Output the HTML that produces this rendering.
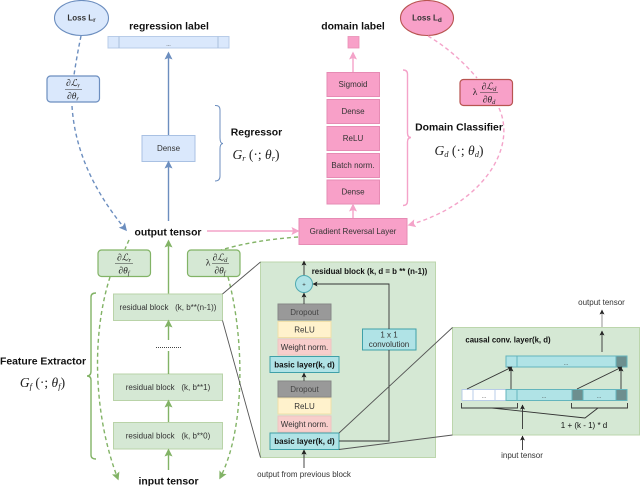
<!DOCTYPE html>
<html><head><meta charset="utf-8">
<style>
html,body{margin:0;padding:0;background:#fff;width:640px;height:486px;overflow:hidden}
svg{display:block}
text{font-family:"Liberation Sans",sans-serif;fill:#333;text-anchor:middle}
.b{font-weight:bold;fill:#111;font-size:10.4px}
.m{font-family:"Liberation Serif",serif;font-style:italic;fill:#222;font-size:9.5px}
.g{font-family:"Liberation Serif",serif;font-style:italic;fill:#222;font-size:13.5px}
.bl{fill:none;stroke:#6c8ebf;stroke-width:1.4}
.pk{fill:none;stroke:#f4a3c9;stroke-width:1.4}
.gn{fill:none;stroke:#82b366;stroke-width:1.4}
.k{fill:none;stroke:#333;stroke-width:.9}
</style></head><body>
<svg width="640" height="486" viewBox="0 0 640 486" xmlns="http://www.w3.org/2000/svg">
<defs>
<marker id="ab" markerWidth="9" markerHeight="9" refX="6.500" refY="4.500" orient="auto" markerUnits="userSpaceOnUse"><path d="M0 0.500L8 4.500L0 8.500L1.500 4.500Z" fill="#6c8ebf"/></marker>
<marker id="ap" markerWidth="9" markerHeight="9" refX="6.500" refY="4.500" orient="auto" markerUnits="userSpaceOnUse"><path d="M0 0.500L8 4.500L0 8.500L1.500 4.500Z" fill="#f4a3c9"/></marker>
<marker id="ag" markerWidth="9" markerHeight="9" refX="6.500" refY="4.500" orient="auto" markerUnits="userSpaceOnUse"><path d="M0 0.500L8 4.500L0 8.500L1.500 4.500Z" fill="#82b366"/></marker>
<marker id="ak" markerWidth="6" markerHeight="6" refX="4.500" refY="3" orient="auto" markerUnits="userSpaceOnUse"><path d="M0 0.500L5 3L0 5.500L1 3Z" fill="#222"/></marker>
</defs>

<!-- Regressor -->
<ellipse cx="81.500" cy="18" rx="27" ry="17.500" fill="#dae8fc" stroke="#6c8ebf" stroke-width="1.100"/>
<text x="81.500" y="20.500" style="font-size:8px;font-weight:bold">Loss L<tspan dy="1.500" style="font-size:6.500px">r</tspan></text>
<text class="b" x="169" y="29.500">regression label</text>
<rect x="108" y="36.500" width="121" height="11.500" fill="#dae8fc" stroke="#b8cce8" stroke-width="1"/>
<path d="M119 36.500V48M218 36.500V48" stroke="#a9bfdc" stroke-width="1"/>
<text x="168.500" y="46" style="font-size:5.500px">...</text>
<rect x="47" y="76" width="52.500" height="26" rx="3.500" fill="#dae8fc" stroke="#6c8ebf" stroke-width="1.200"/>
<text class="m" x="73" y="86">∂ℒ<tspan dy="1.500" style="font-size:6.500px">r</tspan></text>
<path d="M65 89.500H82" stroke="#333" stroke-width=".6"/>
<text class="m" x="73" y="99">∂θ<tspan dy="1.500" style="font-size:6.500px">r</tspan></text>
<rect x="142" y="135.500" width="53" height="26" fill="#dae8fc" stroke="#a9c1e3" stroke-width="1"/>
<text x="168.500" y="151" style="font-size:8px">Dense</text>
<path class="bl" marker-end="url(#ab)" d="M168.500 135V53"/>
<path class="bl" marker-end="url(#ab)" d="M168.500 221V162"/>
<path class="bl" style="stroke-width:1" d="M215 105.500Q220 105 220 110V138Q220 143.500 223 143.500Q220 143.500 220 149V176Q220 181 215 181"/>
<text class="b" x="256.500" y="135.500">Regressor</text>
<text class="g" x="256" y="159">G<tspan dy="2" style="font-size:8.500px">r</tspan><tspan dy="-2" style="font-style:normal"> (·; </tspan>θ<tspan dy="2" style="font-size:8.500px">r</tspan><tspan dy="-2" style="font-style:normal">)</tspan></text>
<path class="bl" stroke-dasharray="4 3" d="M81 36Q77 55 74 75"/>
<path class="bl" stroke-dasharray="4 3" marker-end="url(#ab)" d="M72 106Q76 170 126 230"/>

<!-- Center -->
<text class="b" x="168" y="235.500">output tensor</text>
<path class="pk" marker-end="url(#ap)" d="M207 231H298"/>

<!-- Domain -->
<ellipse cx="427" cy="18" rx="26.500" ry="17.500" fill="#f8a0c8" stroke="#b85450" stroke-width="1.100"/>
<text x="427" y="20.500" style="font-size:8px;font-weight:bold">Loss L<tspan dy="1.500" style="font-size:6.500px">d</tspan></text>
<text class="b" x="353" y="29.500">domain label</text>
<rect x="348" y="36.500" width="11" height="11.500" fill="#f8a0c8" stroke="#e88fb6" stroke-width=".8"/>
<path class="pk" marker-end="url(#ap)" d="M353 72V53"/>
<g fill="#f8a0c8" stroke="#e68bb4" stroke-width="1">
<rect x="327" y="72.500" width="52.500" height="24"/>
<rect x="327" y="99.500" width="52.500" height="24"/>
<rect x="327" y="126.500" width="52.500" height="24"/>
<rect x="327" y="153.500" width="52.500" height="24"/>
<rect x="327" y="180" width="52.500" height="24"/>
<rect x="299" y="218.500" width="108" height="26"/>
</g>
<g style="font-size:8px">
<text x="353" y="87">Sigmoid</text>
<text x="353" y="114">Dense</text>
<text x="353" y="141">ReLU</text>
<text x="353" y="168">Batch norm.</text>
<text x="353" y="194.500">Dense</text>
<text x="353" y="234">Gradient Reversal Layer</text>
</g>
<path class="pk" marker-end="url(#ap)" d="M353 218V205"/>
<path class="pk" d="M403 70Q407.500 70 407.500 74V133Q407.500 137.500 411 137.500Q407.500 137.500 407.500 142V201Q407.500 205.500 403 205.500"/>
<text class="b" x="459" y="130.500">Domain Classifier</text>
<text class="g" x="459" y="155">G<tspan dy="2" style="font-size:8.500px">d</tspan><tspan dy="-2" style="font-style:normal"> (·; </tspan>θ<tspan dy="2" style="font-size:8.500px">d</tspan><tspan dy="-2" style="font-style:normal">)</tspan></text>
<rect x="460" y="79.500" width="52.500" height="26" rx="3.500" fill="#f8a0c8" stroke="#b85450" stroke-width="1.200"/>
<text class="m" x="475" y="95" style="font-style:normal">λ</text>
<text class="m" x="489" y="89.500">∂ℒ<tspan dy="1.500" style="font-size:6.500px">d</tspan></text>
<path d="M480 92.500H498" stroke="#333" stroke-width=".6"/>
<text class="m" x="489" y="102.500">∂θ<tspan dy="1.500" style="font-size:6.500px">d</tspan></text>
<path class="pk" stroke-dasharray="4 3" d="M428 36Q455 52 477 78"/>
<path class="pk" stroke-dasharray="4 3" marker-end="url(#ap)" d="M499 108C518 150 480 205 409 225"/>

<!-- Feature extractor -->
<path class="gn" marker-end="url(#ag)" d="M168.500 294V241"/>
<rect x="98" y="250" width="52.500" height="26.500" rx="3.500" fill="#d5e8d4" stroke="#82b366" stroke-width="1.200"/>
<text class="m" x="124" y="260.500">∂ℒ<tspan dy="1.500" style="font-size:6.500px">r</tspan></text>
<path d="M115 263.500H133" stroke="#333" stroke-width=".6"/>
<text class="m" x="124" y="273.500">∂θ<tspan dy="1.500" style="font-size:6.500px">f</tspan></text>
<rect x="187.500" y="250" width="52.500" height="26.500" rx="3.500" fill="#d5e8d4" stroke="#82b366" stroke-width="1.200"/>
<text class="m" x="208" y="265.500" style="font-style:normal">λ</text>
<text class="m" x="220" y="260.500">∂ℒ<tspan dy="1.500" style="font-size:6.500px">d</tspan></text>
<path d="M212 263.500H229" stroke="#333" stroke-width=".6"/>
<text class="m" x="220" y="273.500">∂θ<tspan dy="1.500" style="font-size:6.500px">f</tspan></text>
<g fill="#d5e8d4" stroke="#b9d3a8" stroke-width="1">
<rect x="113.500" y="294" width="109" height="26.500"/>
<rect x="113.500" y="374" width="109" height="26.500"/>
<rect x="113.500" y="422.500" width="109" height="26.500"/>
</g>
<g style="font-size:8px">
<text x="168" y="310">residual block&#160;&#160;&#160;(k, b**(n-1))</text>
<text x="168" y="390">residual block&#160;&#160;&#160;(k, b**1)</text>
<text x="168" y="438.500">residual block&#160;&#160;&#160;(k, b**0)</text>
</g>
<path class="gn" marker-end="url(#ag)" d="M168.500 340V321"/>
<path class="gn" d="M168.500 374V351"/>
<path class="gn" marker-end="url(#ag)" d="M168.500 422V401"/>
<path class="gn" marker-end="url(#ag)" d="M168.500 470V450"/>
<path d="M156 347.500H182" stroke="#444" stroke-width="1" stroke-dasharray="1 1"/>
<path class="gn" d="M96 293Q91 293 91 297V371Q91 376 87 376Q91 376 91 380V455Q91 459 96 459"/>
<text class="b" x="43" y="364.500">Feature Extractor</text>
<text class="g" x="42.500" y="387">G<tspan dy="2" style="font-size:8.500px">f</tspan><tspan dy="-2" style="font-style:normal"> (·; </tspan>θ<tspan dy="2" style="font-size:8.500px">f</tspan><tspan dy="-2" style="font-style:normal">)</tspan></text>
<text class="b" x="168.500" y="484.500">input tensor</text>
<path class="gn" stroke-dasharray="4 3" d="M129 240L125 249"/>
<path class="gn" stroke-dasharray="4 3" marker-end="url(#ag)" d="M110 277C90 340 95 420 118 479"/>
<path class="gn" stroke-dasharray="4 3" d="M298 237Q255 240 221 250"/>
<path class="gn" stroke-dasharray="4 3" marker-end="url(#ag)" d="M228 277C245 340 245 430 220 478"/>

<!-- Residual panel -->
<rect x="260.500" y="262" width="175" height="195.500" fill="#d5e8d4" stroke="#bcd6ac" stroke-width="1"/>
<path d="M222.500 294L260.500 262M222.500 320.500L260.500 457.500" stroke="#555" stroke-width=".9" fill="none"/>
<text x="369.500" y="274" style="font-size:7.900px;font-weight:bold;fill:#111">residual block (k, d = b ** (n-1))</text>
<circle cx="304" cy="284" r="8.500" fill="#b0e3e6" stroke="#4eaab1" stroke-width="1"/>
<text x="304" y="286.500" style="font-size:6px">+</text>
<g stroke-width="1">
<rect x="278" y="304" width="53" height="16" fill="#999" stroke="#888"/>
<rect x="278" y="321.500" width="53" height="16" fill="#fff2cc" stroke="#f0dfa8"/>
<rect x="278" y="339" width="53" height="16" fill="#f8cecc" stroke="#eec4c0"/>
<rect x="270" y="356.500" width="69" height="16" fill="#b0e3e6" stroke="#3fa0a8"/>
<rect x="278" y="381" width="53" height="16" fill="#999" stroke="#888"/>
<rect x="278" y="398" width="53" height="16" fill="#fff2cc" stroke="#f0dfa8"/>
<rect x="278" y="416" width="53" height="16" fill="#f8cecc" stroke="#eec4c0"/>
<rect x="270" y="433" width="69" height="16.500" fill="#b0e3e6" stroke="#3fa0a8"/>
<rect x="362.500" y="329" width="53.500" height="21" fill="#b0e3e6" stroke="#3fa0a8"/>
</g>
<g style="font-size:8px">
<text x="304.500" y="314.800" style="fill:#444">Dropout</text>
<text x="304.500" y="332.300">ReLU</text>
<text x="304.500" y="349.800">Weight norm.</text>
<text x="304.500" y="367.300" style="font-weight:bold;fill:#111">basic layer(k, d)</text>
<text x="304.500" y="391.800" style="fill:#444">Dropout</text>
<text x="304.500" y="408.800">ReLU</text>
<text x="304.500" y="426.800">Weight norm.</text>
<text x="304.500" y="444" style="font-weight:bold;fill:#111">basic layer(k, d)</text>
<text x="389" y="337.500">1 x 1</text>
<text x="389" y="347">convolution</text>
<text x="304" y="477">output from previous block</text>
</g>
<g class="k">
<path class="k" marker-end="url(#ak)" d="M304 275V261"/>
<path class="k" marker-end="url(#ak)" d="M304 304V293"/>
<path class="k" marker-end="url(#ak)" d="M304 381V373"/>
<path class="k" marker-end="url(#ak)" d="M304 457V450"/>
<path class="k" marker-end="url(#ak)" d="M304 468V450"/>
<path class="k" marker-end="url(#ak)" d="M389 329V284H313"/>
<path class="k" d="M339 441H389V350"/>
</g>

<!-- Causal panel -->
<rect x="452.500" y="327.500" width="187" height="107.500" fill="#d5e8d4" stroke="#bcd6ac" stroke-width="1"/>
<path d="M339 433L452.500 327.500M339 449.500L452.500 435" stroke="#555" stroke-width=".9" fill="none"/>
<text x="508" y="342.500" style="font-size:7.800px;font-weight:bold;fill:#111">causal conv. layer(k, d)</text>
<g stroke="#64b5bd" stroke-width="1" fill="#b0e3e6">
<rect x="506" y="356" width="11" height="11"/>
<rect x="517" y="356" width="99" height="11"/>
<rect x="616" y="356" width="11" height="11" fill="#6d8f8f"/>
<rect x="462" y="389.500" width="11" height="11" fill="#fff" stroke="#b8cce8"/>
<rect x="473" y="389.500" width="22" height="11" fill="#fff" stroke="#b8cce8"/>
<rect x="495" y="389.500" width="11" height="11" fill="#fff" stroke="#b8cce8"/>
<rect x="506" y="389.500" width="11" height="11"/>
<rect x="517" y="389.500" width="55" height="11"/>
<rect x="572" y="389.500" width="11" height="11" fill="#6d8f8f"/>
<rect x="583" y="389.500" width="33" height="11"/>
<rect x="616" y="389.500" width="11" height="11" fill="#6d8f8f"/>
</g>
<g style="font-size:5.500px">
<text x="566" y="365">...</text>
<text x="484" y="398">...</text>
<text x="544" y="398">...</text>
<text x="599" y="398">...</text>
</g>
<path class="k" marker-end="url(#ak)" d="M467 389L512 367"/>
<path class="k" marker-end="url(#ak)" d="M511 389V367"/>
<path class="k" marker-end="url(#ak)" d="M577 389L622 367"/>
<path class="k" marker-end="url(#ak)" d="M621 389V367"/>
<path class="k" d="M461.500 403V408H517.500V403M571.500 403V408H627.500V403M492 408L585 418L598 408"/>
<text x="584" y="428" style="font-size:8px;fill:#111">1 + (k - 1) * d</text>
<path class="k" marker-end="url(#ak)" d="M522.500 429V405"/>
<path class="k" marker-end="url(#ak)" d="M522.500 450V436"/>
<text x="522" y="458" style="font-size:8px">input tensor</text>
<path class="k" marker-end="url(#ak)" d="M602 352V331"/>
<path d="M602 327V310" stroke="#888" stroke-width=".9" marker-end="url(#ak)"/>
<text x="601.500" y="305" style="font-size:8px">output tensor</text>
</svg>
</body></html>
